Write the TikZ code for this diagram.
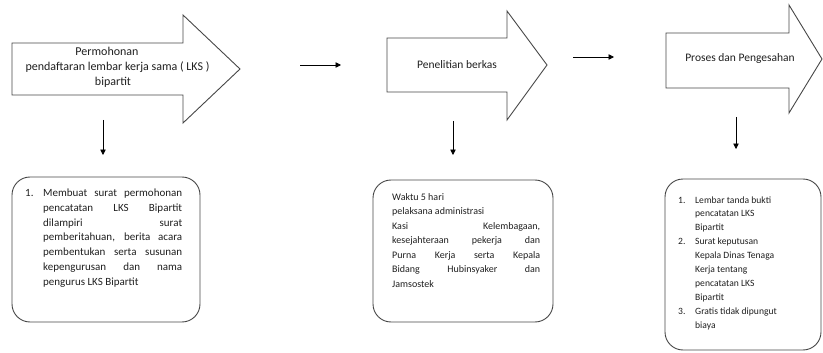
\documentclass[tikz,border=0pt]{standalone}
\usepackage{fontspec}
\setmainfont{Carlito}
\usetikzlibrary{arrows.meta}
\newcommand\jl[1]{\makebox[\linewidth][s]{#1}}
\begin{document}
\begin{tikzpicture}[x=1pt,y=-1pt]
\tikzset{
  shapeline/.style={draw=black!72, line width=0.9pt, line join=miter},
  flow/.style={draw=black, line width=0.8pt, -{Triangle[length=5.5pt,width=5.5pt]}},
  arrtxt/.style={inner sep=0pt, text=black!88, font=\fontsize{11.5}{15}\selectfont, align=center},
  boxtxt/.style={inner sep=0pt, text=black!88, anchor=base west},
  roundbox/.style={shapeline, rounded corners=18pt}
}
\useasboundingbox (0,0) rectangle (823,353);

% big arrows
\draw[shapeline] (12,43) -- (183,43) -- (183,15) -- (240,69) -- (183,123) -- (183,95) -- (12,95) -- cycle;
\draw[shapeline] (387,38) -- (507,38) -- (507,11) -- (547,65) -- (507,120) -- (507,92) -- (387,92) -- cycle;
\draw[shapeline] (666,33) -- (789,33) -- (789,5) -- (822,59) -- (789,113) -- (789,88) -- (666,88) -- cycle;

\node[arrtxt, font=\fontsize{12}{15}\selectfont] (a1) at (117.5,67) {Permohonan\hspace*{21pt}\\pendaftaran lembar kerja sama ( LKS )\\bipartit\hspace*{9pt}};
\node[arrtxt] (a2) at (457,65) {Penelitian berkas};
\node[arrtxt] (a3) at (740,58) {Proses dan Pengesahan};

% connectors
\coordinate (h1s) at (300,65); \coordinate (h1e) at (341,65);
\coordinate (h2s) at (573,57); \coordinate (h2e) at (614,57);
\draw[flow] (h1s) -- (h1e);
\draw[flow] (h2s) -- (h2e);
\coordinate (d1s) at (103,120); \coordinate (d1e) at (103,155);
\coordinate (d2s) at (453,121); \coordinate (d2e) at (453,155);
\coordinate (d3s) at (736,117); \coordinate (d3e) at (736,149);
\draw[flow] (d1s) -- (d1e);
\draw[flow] (d2s) -- (d2e);
\draw[flow] (d3s) -- (d3e);

% boxes
\draw[roundbox] (12,177) rectangle (200,322);
\draw[roundbox] (373,180) rectangle (553,322);
\draw[roundbox] (665,179) rectangle (821,350);

\node[boxtxt] (b1) at (25,196) {\begin{minipage}[t]{157pt}\fontsize{11}{15}\selectfont
\makebox[18pt][l]{1.}\makebox[139pt][s]{Membuat surat permohonan}\\
\hspace*{18pt}\makebox[139pt][s]{pencatatan LKS Bipartit}\\
\hspace*{18pt}\makebox[139pt][s]{dilampiri surat}\\
\hspace*{18pt}\makebox[139pt][s]{pemberitahuan, berita acara}\\
\hspace*{18pt}\makebox[139pt][s]{pembentukan serta susunan}\\
\hspace*{18pt}\makebox[139pt][s]{kepengurusan dan nama}\\
\hspace*{18pt}pengurus LKS Bipartit
\end{minipage}};

\node[boxtxt] (b2) at (392,200) {\begin{minipage}[t]{148pt}\fontsize{10}{14.6}\selectfont
Waktu 5 hari\\
pelaksana administrasi\\
\jl{Kasi Kelembagaan,}\\
\jl{kesejahteraan pekerja dan}\\
\jl{Purna Kerja serta Kepala}\\
\jl{Bidang Hubinsyaker dan}\\
Jamsostek
\end{minipage}};

\node[boxtxt] (b3) at (678,203) {\begin{minipage}[t]{140pt}\fontsize{9.6}{13.9}\selectfont
\makebox[17pt][l]{1.}Lembar tanda bukti\\
\hspace*{17pt}pencatatan LKS\\
\hspace*{17pt}Bipartit\\
\makebox[17pt][l]{2.}Surat keputusan\\
\hspace*{17pt}Kepala Dinas Tenaga\\
\hspace*{17pt}Kerja tentang\\
\hspace*{17pt}pencatatan LKS\\
\hspace*{17pt}Bipartit\\
\makebox[17pt][l]{3.}Gratis tidak dipungut\\
\hspace*{17pt}biaya
\end{minipage}};
\end{tikzpicture}
\end{document}
